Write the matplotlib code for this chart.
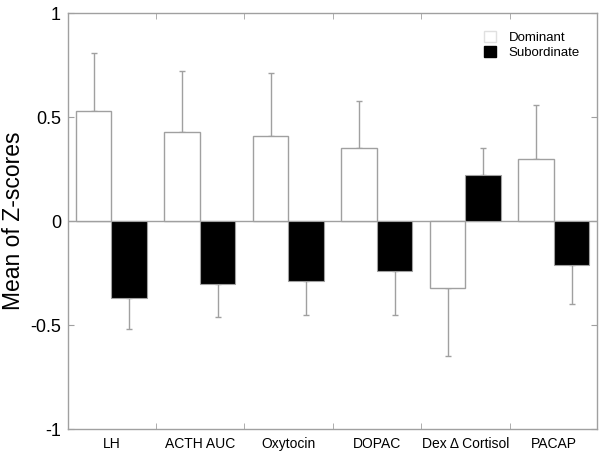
import numpy as np
import matplotlib
matplotlib.use("Agg")
import matplotlib.pyplot as plt
from matplotlib.patches import Patch

plt.rcParams['font.family'] = ['Liberation Sans', 'DejaVu Sans']

labels = ["LH", "ACTH AUC", "Oxytocin", "DOPAC", "Dex \u0394 Cortisol", "PACAP"]
dominant = [0.53, 0.43, 0.41, 0.35, -0.32, 0.30]
dominant_err = [0.28, 0.29, 0.30, 0.23, 0.33, 0.26]
subordinate = [-0.37, -0.30, -0.29, -0.24, 0.22, -0.21]
subordinate_err = [0.15, 0.16, 0.16, 0.21, 0.13, 0.19]

GRAY = "#a0a0a0"
x = np.arange(len(labels))
w = 0.40

fig = plt.figure(figsize=(6, 4.55), dpi=100)
ax = fig.add_axes([0.1133, 0.057, 0.882, 0.914])

ax.axhline(0, color=GRAY, lw=1, zorder=1)

def one_sided(vals, errs):
    lo = [e if v < 0 else 0 for v, e in zip(vals, errs)]
    hi = [e if v >= 0 else 0 for v, e in zip(vals, errs)]
    return [lo, hi]

ax.bar(x - w / 2, dominant, w, color="white", edgecolor=GRAY, lw=1, zorder=2)
ax.bar(x + w / 2, subordinate, w, color="black", edgecolor=GRAY, lw=0.8, zorder=2)
ax.errorbar(x - w / 2, dominant, yerr=one_sided(dominant, dominant_err), fmt="none",
            ecolor=GRAY, elinewidth=1, capsize=2, capthick=1, zorder=1)
ax.errorbar(x + w / 2, subordinate, yerr=one_sided(subordinate, subordinate_err), fmt="none",
            ecolor=GRAY, elinewidth=1, capsize=2, capthick=1, zorder=1)

ax.set_xlim(-0.49, 5.49)
ax.set_ylim(-1, 1)
ax.set_yticks([-1, -0.5, 0, 0.5, 1])
ax.set_yticklabels(["-1", "-0.5", "0", "0.5", "1"], fontsize=13)
ax.set_xticks(x)
ax.set_xticklabels(labels, fontsize=10)
ax.set_xticks(x[:-1] + 0.5, minor=True)
ax.tick_params(axis="x", which="major", length=0, pad=6)
ax.tick_params(axis="x", which="minor", direction="in", length=4, color=GRAY, top=True, bottom=True)
ax.tick_params(axis="y", direction="in", length=4, color=GRAY, left=True, right=True, pad=5)
for s in ax.spines.values():
    s.set_color(GRAY)
    s.set_linewidth(1)
ax.set_ylabel("Mean of Z-scores", fontsize=16.5, labelpad=4)

handles = [Patch(facecolor="white", edgecolor="#e0e0e0", label="Dominant"),
           Patch(facecolor="black", edgecolor="black", label="Subordinate")]
ax.legend(handles=handles, loc="upper right", bbox_to_anchor=(0.99, 0.985), frameon=False,
          fontsize=9.5, handlelength=0.9, handleheight=0.9, handletextpad=1.0, labelspacing=0.15)

plt.savefig("out.png", dpi=100)
